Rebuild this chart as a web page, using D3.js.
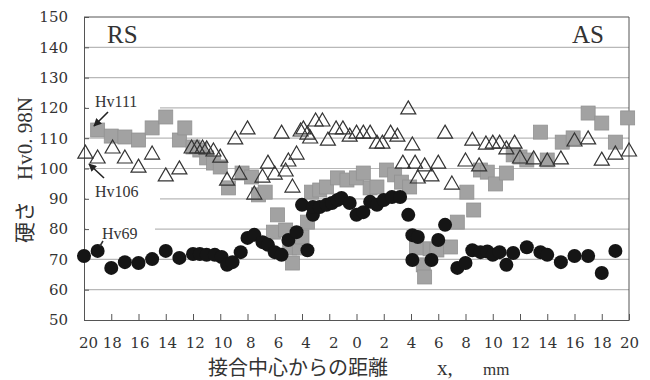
<!DOCTYPE html>
<html><head><meta charset="utf-8">
<script src="https://cdn.jsdelivr.net/npm/d3@7"></script>
<style>body{margin:0;background:#fff}svg{display:block}</style>
</head><body><svg id="c" width="650" height="380"></svg>
<script>
// ---- data ----
const yTicks = [50,60,70,80,90,100,110,120,130,140,150];
const xTicks = [-20,-18,-16,-14,-12,-10,-8,-6,-4,-2,0,2,4,6,8,10,12,14,16,18,20];

// Hv69 series (black circles): distance (mm, RS negative) and hardness
const hv69Dist = [-20,-19,-18,-17,-16,-15,-14,-13,-12,-11.5,-11,-10.4,-9.9,-9.5,-9.1,-8.5,-8,-7.5,-6.9,-6.5,
  -6,-5.5,-5,-4.4,-3.6,-4,-3.2,-3.2,-2.7,-2.2,-1.8,-1.4,-1.1,-0.5,0,0.5,1,1.5,2,2.6,
  3.2,3.8,4.1,4.5,4.1,5.5,6,6.5,7.4,8,8.5,9.1,9.6,10,10.5,11,11.5,12.5,13.5,14,
  15,16,17,18,19];
const hv69Hard = [71.1,72.8,67.2,69.1,68.8,70.1,72.8,70.5,71.8,71.8,71.5,71.5,70.8,68.2,69.1,72.4,77.1,78.1,75.7,74.8,
  72.4,71.5,76.4,79,73,88,84.7,87.3,87.3,88,88.6,89.6,90.3,88.6,84.7,85.6,89,88,89.6,90.6,
  90.6,84.7,78,77.4,69.8,69.8,76.4,81.4,67.2,68.8,73,72.4,72.6,71.5,72.4,68.2,72.1,74,72.4,71.5,
  69.1,71.1,71.1,65.5,72.8];

// Hv111 series (gray squares)
const hv111Dist = [-19,-18,-17,-16,-15,-14,-13,-12.6,-12,-11.5,-11,-10.5,-10,-9.4,-8.4,-7.7,-7.2,-6.7,-5.8,-6.1,
  -5.2,-4.9,-4.7,-4.2,-4,-3.6,-3.3,-2.7,-2.2,-1.4,-0.7,0,0.5,1,1.5,2.2,2.8,3.3,3.9,4.4,
  4.9,5,5.4,5.9,6.9,7.4,8.1,8.6,9.1,9.6,10.2,11,11.5,12,12.5,13.5,14,15.1,15.9,17,
  18,19,19.9];
const hv111Hard = [112.7,110.7,110.4,109.4,113.4,117,109.4,113.4,107.1,106.1,103.5,101.8,100.5,93.6,98.5,97.2,91.3,92.2,84.7,79,
  79.7,73.8,68.8,73.8,77.4,82.3,92.2,92.9,93.9,96.9,96.2,96.9,98.5,93.6,93.9,99.5,97.9,95.5,93.9,73.8,
  68.2,64.2,73.5,73.1,74.1,82.3,92.2,86.3,99.5,98.8,94.9,98.5,104.5,103.8,102.8,112,102.8,108.7,110.1,118.3,
  115,108.7,116.7];

// Hv106 series (open triangles)
const hv106Dist = [-19.9,-19,-17.9,-17,-16,-15,-14,-13,-12.1,-11.7,-11.3,-11,-10.5,-10,-9.5,-8.9,-8.6,-8,-7.5,-6.9,
  -6.5,-6,-5.5,-5.2,-5,-4.7,-4.4,-4.1,-3.9,-3.6,-3.4,-3,-2.5,-2.1,-1.5,-1,-0.5,0,0.5,1,
  1.5,1.9,2.5,3,3.8,4.1,3.4,4.3,5,4.5,5.5,6,6.5,7,8,8.5,9,9.5,10,10.5,
  11,11.6,12,13,14,15,16,17,18,19,20];
const hv106Hard = [105.4,103.8,107.1,103.8,100.8,105.1,97.9,100.2,107.1,107.1,107.1,106.8,106.1,104.1,96.5,110.1,98.5,113.4,91.9,97.5,
  102.1,98.5,112,99.5,102.8,94.2,105.1,112.7,113.4,111.7,110.4,116,116,109.7,113.4,113.4,111,112,112,112,
  108.7,108.7,112,111,120,108.1,102.1,102.1,101.2,97.2,97.9,102.1,112,95.2,102.8,109.7,101.2,108.4,108.7,108.7,
  106.8,108.7,103.8,103.5,102.8,103.5,109.4,110.1,103.1,105.1,106.1];

const sideLabels = ["RS","AS"];
const seriesLabels = ["Hv111","Hv106","Hv69"];

// ---- chart ----
const L=84,R=629,T=17,B=320;
const x = d3.scaleLinear().domain([-20,20]).range([L,R]);
const y = d3.scaleLinear().domain([50,150]).range([B,T]);
const svg = d3.select('#c');
const serif = '"Liberation Serif","DejaVu Serif",serif';
const cjk = '"Noto Sans CJK JP",sans-serif';

// gridlines
svg.append('g').selectAll('line').data(yTicks.filter(v=>v>50&&v<150)).join('line')
  .attr('x1',L).attr('x2',R).attr('y1',d=>y(d)).attr('y2',d=>y(d))
  .attr('stroke','#b8b8b8').attr('stroke-width',1.2);

// label backgrounds that break the gridlines
const bg = svg.append('g').attr('fill','#fff');
bg.append('rect').attr('x',L+2).attr('y',y(122)).attr('width',74).attr('height',y(117)-y(122));
bg.append('rect').attr('x',L+2).attr('y',y(92)).attr('width',74).attr('height',y(87)-y(92));
bg.append('rect').attr('x',L+2).attr('y',y(82)).attr('width',69).attr('height',y(78)-y(82));

// frame
svg.append('path').attr('d',`M${L},${T}H${R}V${B}`).attr('fill','none').attr('stroke','#555').attr('stroke-width',1);

// axes
const yAxis = d3.axisLeft(y).tickValues(yTicks).tickSize(-5).tickSizeOuter(0).tickPadding(16);
const gy = svg.append('g').attr('transform',`translate(${L},0)`).call(yAxis);
const xAxis = d3.axisBottom(x).tickValues(xTicks).tickSize(-6).tickSizeOuter(0).tickPadding(17)
  .tickFormat(d=>String(Math.abs(d)));
const gx = svg.append('g').attr('transform',`translate(0,${B})`).call(xAxis);
[gy,gx].forEach(g=>{
  g.selectAll('.domain').attr('stroke','#555');
  g.selectAll('.tick line').attr('stroke','#555');
  g.selectAll('text').attr('font-family','"DejaVu Serif",serif').attr('font-size',15).attr('fill','#333');
});
gx.selectAll('.tick').filter(d=>d===-20).select('text').attr('dx',4);
gx.selectAll('.tick').filter(d=>d>-20&&d<0).select('text').attr('dx',d=>3*(1+d/20)*1.5);

// squares
svg.append('g').selectAll('rect').data(hv111Dist.map((d,i)=>[d,hv111Hard[i]])).join('rect')
  .attr('x',d=>x(d[0])-7).attr('y',d=>y(d[1])-7).attr('width',14).attr('height',14)
  .attr('fill','#a2a2a2').attr('stroke','#929292').attr('stroke-width',0.8);

// circles
svg.append('g').selectAll('circle').data(hv69Dist.map((d,i)=>[d,hv69Hard[i]])).join('circle')
  .attr('cx',d=>x(d[0])).attr('cy',d=>y(d[1])).attr('r',7)
  .attr('fill','#151515');

// triangles
svg.append('g').selectAll('path').data(hv106Dist.map((d,i)=>[d,hv106Hard[i]])).join('path')
  .attr('d',d=>{const cx=x(d[0]),cy=y(d[1]);return `M${cx},${cy-7}L${cx+7.5},${cy+6}L${cx-7.5},${cy+6}Z`;})
  .attr('fill','none').attr('stroke','#333').attr('stroke-width',1.2);

// side labels
svg.append('text').attr('x',107).attr('y',43).attr('font-family',serif).attr('font-size',25).attr('fill','#333').text(sideLabels[0]);
svg.append('text').attr('x',604).attr('y',43).attr('text-anchor','end').attr('font-family',serif).attr('font-size',25).attr('fill','#333').text(sideLabels[1]);

// series labels
const lab = svg.append('g').attr('font-family',serif).attr('font-size',16).attr('fill','#333');
lab.append('text').attr('x',95).attr('y',107).text(seriesLabels[0]);
lab.append('text').attr('x',95).attr('y',197).text(seriesLabels[1]);
lab.append('text').attr('x',102).attr('y',239).text(seriesLabels[2]);
svg.append('line').attr('x1',103).attr('y1',241).attr('x2',100).attr('y2',246).attr('stroke','#333').attr('stroke-width',1.5);

// arrows
svg.append('defs').append('marker').attr('id','ah').attr('viewBox','0 0 10 10').attr('refX',9).attr('refY',5)
  .attr('markerWidth',5).attr('markerHeight',5).attr('orient','auto')
  .append('path').attr('d','M0,0L10,5L0,10Z').attr('fill','#222');
svg.append('line').attr('x1',108).attr('y1',112).attr('x2',94).attr('y2',126)
  .attr('stroke','#222').attr('stroke-width',1.6).attr('marker-end','url(#ah)');
svg.append('line').attr('x1',104).attr('y1',178).attr('x2',89).attr('y2',164)
  .attr('stroke','#222').attr('stroke-width',1.6).attr('marker-end','url(#ah)');

// axis titles
const yt = svg.append('text').attr('transform','translate(32,170) rotate(-90)').attr('text-anchor','middle').attr('fill','#333').attr('font-size',21);
yt.append('tspan').attr('font-family',cjk).text('硬さ　');
yt.append('tspan').attr('font-family',serif).text('Hv0. 98N');

svg.append('text').attr('x',208).attr('y',375).attr('font-family',cjk).attr('font-size',20).attr('fill','#333').text('接合中心からの距離');
svg.append('text').attr('x',437).attr('y',375).attr('font-family',serif).attr('font-size',21).attr('fill','#333').text('x,');
svg.append('text').attr('x',483).attr('y',375).attr('font-family',serif).attr('font-size',17).attr('fill','#333').text('mm');
</script></body></html>
